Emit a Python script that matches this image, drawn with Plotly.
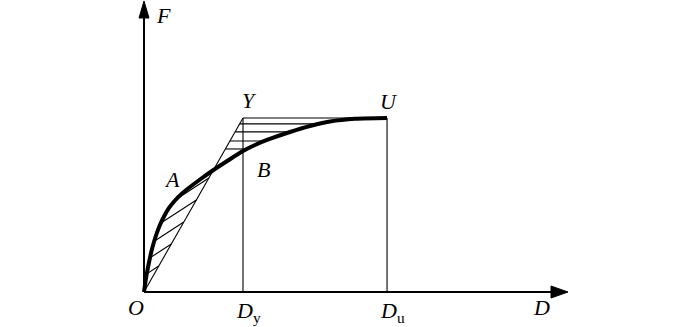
import numpy as np
import plotly.graph_objects as go

# ---- data (D in units of Dy, F in units of Fy) ----
Dy = 1.0
Du = 2.455
Fy = 1.0
curve_D = [0.0, 0.0152, 0.0303, 0.0556, 0.0808, 0.1162, 0.1566, 0.2020, 0.2525, 0.3131,
           0.3838, 0.4646, 0.5657, 0.6869, 0.8485, 1.0, 1.1212, 1.2424, 1.4747, 1.6768,
           1.8788, 2.1313, 2.4545]
curve_F = [0.0, 0.0603, 0.1121, 0.1839, 0.2471, 0.3161, 0.3793, 0.4339, 0.4828, 0.5259,
           0.5661, 0.6034, 0.6466, 0.6954, 0.7557, 0.8103, 0.8448, 0.8736, 0.9195, 0.9540,
           0.9799, 0.9954, 1.0]
left_hatch_F = [0.149, 0.276, 0.402, 0.529, 0.655]   # where hatch lines meet line OY
right_hatch_F = [0.822, 0.868, 0.920, 0.966]          # horizontal hatch levels
labels = {"F": "<i>F</i>", "D": "<i>D</i>", "O": "<i>O</i>", "Y": "<i>Y</i>",
          "U": "<i>U</i>", "A": "<i>A</i>", "B": "<i>B</i>",
          "Dy": "<i>D</i><sub>y</sub>", "Du": "<i>D</i><sub>u</sub>"}

# ---- scale (pixels per unit) ----
W, H = 700, 327
ox, oy = 144, 292
sx, sy = 99.0, 174.0
xr = [-ox / sx, (W - ox) / sx]
yr = [-(H - oy) / sy, oy / sy]

cD = np.array(curve_D); cF = np.array(curve_F)
def curve(d):
    return np.interp(d, cD, cF)

fig = go.Figure()
blk = "black"

def line(xs, ys, w=1.1):
    fig.add_trace(go.Scatter(x=xs, y=ys, mode="lines", line=dict(color=blk, width=w),
                             hoverinfo="skip", showlegend=False))

# axes
x_tip = (568 - ox) / sx
y_tip = (oy - 1) / sy
line([0, x_tip - 10 / sx], [0, 0], 2)
line([0, 0], [0, y_tip - 10 / sy], 2)
fig.add_trace(go.Scatter(x=[x_tip, x_tip - 17 / sx, x_tip - 17 / sx, x_tip],
                         y=[0, 6 / sy, -6 / sy, 0], fill="toself", fillcolor=blk,
                         mode="lines", line=dict(color=blk, width=1), showlegend=False, hoverinfo="skip"))
fig.add_trace(go.Scatter(x=[0, 5 / sx, -5 / sx, 0],
                         y=[y_tip, y_tip - 17 / sy, y_tip - 17 / sy, y_tip], fill="toself", fillcolor=blk,
                         mode="lines", line=dict(color=blk, width=1), showlegend=False, hoverinfo="skip"))

# verticals and bilinear lines
line([Dy, Dy], [0, Fy])
line([Du, Du], [0, Fy])
line([0, Dy], [0, Fy])
line([Dy, Du], [Fy, Fy])

# horizontal hatch between line OY and curve
for f in right_hatch_F:
    d_curve = np.interp(f, cF, cD)
    line([f * Dy / Fy, d_curve], [f, f])

# sloped hatch between curve and line OY
s = 0.65 * sx / sy
for f in left_hatch_F:
    d0 = f * Dy / Fy
    lo, hi = 0.0, d0
    for _ in range(60):
        t = (lo + hi) / 2
        if curve(d0 - t) - (f - s * t) > 0:
            lo = t
        else:
            hi = t
    t = (lo + hi) / 2
    line([d0, d0 - t], [f, f - s * t])

# capacity curve
fig.add_trace(go.Scatter(x=curve_D, y=curve_F, mode="lines",
                         line=dict(color=blk, width=4, shape="spline", smoothing=0.8),
                         hoverinfo="skip", showlegend=False))

font = dict(family="Liberation Serif", size=22, color=blk)
def ann(key, x, y, dx, dy):
    fig.add_annotation(x=x, y=y, text=labels[key], showarrow=False, xshift=dx, yshift=dy,
                       font=font, xanchor="center", yanchor="middle")

ann("F", 0, y_tip, 19, -14)
ann("Y", Dy, Fy, 6, 18)
ann("U", Du, Fy, 2, 17)
ann("A", 0.28, float(curve(0.28)), 0, 25)
ann("B", Dy, float(curve(Dy)), 20, -18)
ann("O", 0, 0, -8, -15)
ann("Dy", Dy, 0, 5, -20)
ann("Du", Du, 0, 5, -20)
ann("D", x_tip, 0, -27, -15)

fig.update_layout(width=W, height=H, margin=dict(l=0, r=0, t=0, b=0),
                  paper_bgcolor="white", plot_bgcolor="white", showlegend=False,
                  xaxis=dict(range=xr, visible=False, fixedrange=True),
                  yaxis=dict(range=yr, visible=False, fixedrange=True))
fig.write_html("out.html")
